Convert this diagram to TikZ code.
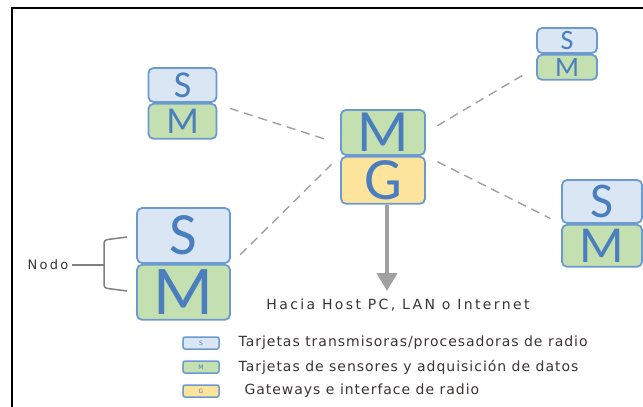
\documentclass[tikz,border=0pt]{standalone}
\usepackage{fontspec}
\usepackage{xcolor}
\usetikzlibrary{positioning, arrows.meta, calc}
\newfontfamily\boxfont{Carlito}
\newfontfamily\labelfont{DejaVu Sans}[LetterSpace=7]
\newfontfamily\hostfont{DejaVu Sans}[LetterSpace=17]
\definecolor{boxline}{HTML}{6B9AD0}
\definecolor{letterblue}{HTML}{4A7EBF}
\definecolor{sfill}{HTML}{DAE6F4}
\definecolor{mfill}{HTML}{C4DFB0}
\definecolor{gfill}{HTML}{FDE49C}
\definecolor{linkgray}{HTML}{A0A0A0}
\definecolor{labeltext}{HTML}{3A3333}

\begin{document}
\begin{tikzpicture}[
        x=1pt, y=-1pt,
        card/.style={rectangle, draw=boxline, line width=1.8pt, rounded corners=5pt, inner sep=0pt, text=letterblue},
        sbox/.style={card, fill=sfill},
        mbox/.style={card, fill=mfill},
        gbox/.style={card, fill=gfill},
        big/.style={font=\boxfont\fontsize{#1}{#1}\selectfont},
        link/.style={draw=linkgray, line width=1.4pt, dash pattern=on 9pt off 6pt, shorten <=13pt, shorten >=12pt},
        flow/.style={draw=linkgray, line width=4pt, -{Triangle[width=20pt,length=18pt]}},
        legend/.style={font=\labelfont\fontsize{14}{14}\selectfont, text=labeltext, anchor=west}
    ]
    \useasboundingbox (0,0) rectangle (643,407);
    \draw[line width=2pt] (12,407) -- (12,8) -- (643,8);

    % sensor nodes
    \node[sbox, big=38, minimum width=68pt, minimum height=34pt] (s1) at (182.5,85) {S};
    \node[mbox, big=38, minimum width=68pt, minimum height=35pt, below=0pt of s1] (m1) {M};

    \node[sbox, big=28, minimum width=60pt, minimum height=25pt] (s3) at (567,40.5) {S};
    \node[mbox, big=28, minimum width=60pt, minimum height=25pt, below=0pt of s3] (m3) {M};

    \node[sbox, big=50, minimum width=80pt, minimum height=43pt] (s4) at (602,201.5) {S};
    \node[mbox, big=52, minimum width=80pt, minimum height=42pt, below=0pt of s4] (m4) {M};

    \node[sbox, big=60, minimum width=93pt, minimum height=55pt] (s5) at (183.5,235.5) {S};
    \node[mbox, big=70, minimum width=93pt, minimum height=55pt, below=0pt of s5] (m5) {M};

    % gateway
    \node[mbox, big=60, minimum width=84pt, minimum height=45pt] (c1) at (383,132.5) {M};
    \node[gbox, big=60, minimum width=84pt, minimum height=47pt, below=0pt of c1] (g0) {G};

    \draw[link] (m1.26) -- (c1.195);
    \draw[link] (s5.south east) -- (c1.south west);
    \draw[link] (c1.east) -- (m3.west);
    \draw[link] (c1.south east) -- (s4.south west);

    \coordinate (tip) at (387,291);
    \draw[flow] (g0.south -| tip) -- (tip);
    \node[font=\hostfont\fontsize{14}{14}\selectfont, text=labeltext] (host) at (398,305) {Hacia Host PC, LAN o Internet};

    % bracket
    \node[font=\hostfont\fontsize{13}{13}\selectfont, text=labeltext] (nodo) at (48,265) {Nodo};
    \draw[gray, line width=1.5pt, rounded corners=3pt] (127,237) -- (104,240) -- (104,288) -- (127,291);
    \draw[gray, line width=1.5pt] (nodo.east) -- (104,265);

    % legend
    \foreach \i/\tag/\fc/\dx/\txt in {0/S/sfill/0/{Tarjetas transmisoras/procesadoras de radio},
            1/M/mfill/0/{Tarjetas de sensores y adquisición de datos},
            2/G/gfill/6/{Gateways e interface de radio}} {
        \node[card, fill=\fc, line width=1.5pt, rounded corners=2pt, minimum width=36pt, minimum height=12pt, font=\labelfont\fontsize{6}{6}\selectfont] (key\i) at (201,343+24*\i) {\tag};
        \node[legend] (txt\i) at (235+\dx,343+24*\i) {\txt};
    }
\end{tikzpicture}
\end{document}
